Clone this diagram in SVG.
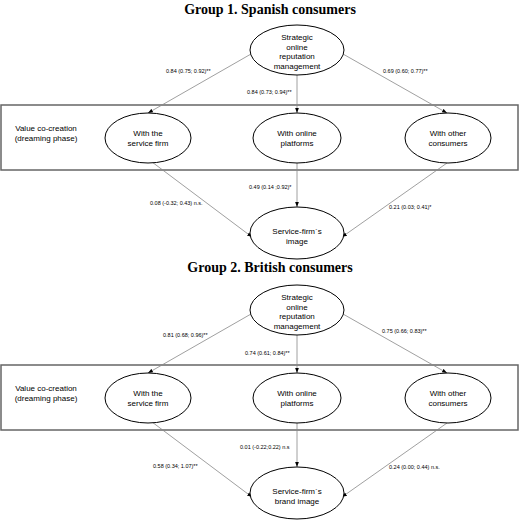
<svg xmlns="http://www.w3.org/2000/svg" width="520" height="520" viewBox="0 0 520 520">
<style>
.title{font-family:"Liberation Serif","Times New Roman",serif;font-weight:bold;font-size:14px;fill:#000;text-anchor:middle}
.nt{font-family:"Liberation Sans",Arial,sans-serif;font-size:8px;fill:#000;text-anchor:middle}
.lab{font-family:"Liberation Sans",Arial,sans-serif;font-size:5.5px;fill:#000}
.node{fill:#fff;stroke:#000;stroke-width:1}
.box{fill:none;stroke:#666;stroke-width:1.5}
.edge{stroke:#888;stroke-width:0.8;fill:none;marker-end:url(#ah)}
</style>
<defs>
<marker id="ah" markerUnits="userSpaceOnUse" markerWidth="5" markerHeight="5" viewBox="0 0 5 5" refX="5" refY="2.5" orient="auto">
<path d="M0,0.6 L5,2.5 L0,4.4 z" fill="#000"/>
</marker>
</defs>
<rect width="520" height="520" fill="#fff"/>

<text class="title" x="270" y="14">Group 1. Spanish consumers</text>
<rect id="box1" class="box" x="1" y="105" width="517" height="65"/>
<text class="nt" x="46" y="131">Value co-creation</text>
<text class="nt" x="46" y="141">(dreaming phase)</text>

<g id="connectors1">
<line class="edge" x1="251" y1="54" x2="148" y2="113"/>
<line class="edge" x1="297" y1="75" x2="297" y2="113"/>
<line class="edge" x1="343" y1="54" x2="447" y2="113"/>
<line class="edge" x1="152" y1="162" x2="252" y2="237"/>
<line class="edge" x1="297" y1="163" x2="297" y2="207"/>
<line class="edge" x1="447" y1="163" x2="342" y2="237"/>
<text class="lab" x="166" y="73">0.84 (0.75; 0.92)**</text>
<text class="lab" x="247" y="94">0.84 (0.73; 0.94)**</text>
<text class="lab" x="383" y="73">0.69 (0.60; 0.77)**</text>
<text class="lab" x="249" y="189">0.49 (0.14 ;0.92)*</text>
<text class="lab" x="150" y="205">0.08 (-0.32; 0.43) n.s.</text>
<text class="lab" x="389" y="209">0.21 (0.03; 0.41)*</text>
</g>

<g id="sorm1">
<ellipse class="node" cx="297" cy="50" rx="47" ry="25"/>
<text class="nt" x="297" y="40">Strategic</text>
<text class="nt" x="297" y="49.5">online</text>
<text class="nt" x="297" y="59">reputation</text>
<text class="nt" x="297" y="68.5">management</text>
</g>
<g id="firm1">
<ellipse class="node" cx="148" cy="138" rx="43" ry="25"/>
<text class="nt" x="148" y="136">With the</text>
<text class="nt" x="148" y="146">service firm</text>
</g>
<g id="platforms1">
<ellipse class="node" cx="297" cy="138" rx="44" ry="25"/>
<text class="nt" x="297" y="136">With online</text>
<text class="nt" x="297" y="146">platforms</text>
</g>
<g id="consumers1">
<ellipse class="node" cx="448" cy="138" rx="43" ry="25"/>
<text class="nt" x="448" y="136">With other</text>
<text class="nt" x="448" y="146">consumers</text>
</g>
<g id="image1">
<ellipse class="node" cx="297" cy="233" rx="47" ry="26"/>
<text class="nt" x="297" y="234">Service-firm`s</text>
<text class="nt" x="297" y="243.5">image</text>
</g>

<text class="title" x="270" y="272">Group 2. British consumers</text>
<rect id="box2" class="box" x="1" y="365" width="517" height="65"/>
<text class="nt" x="46" y="391">Value co-creation</text>
<text class="nt" x="46" y="401">(dreaming phase)</text>

<g id="connectors2">
<line class="edge" x1="251" y1="314" x2="148" y2="373"/>
<line class="edge" x1="297" y1="335" x2="297" y2="373"/>
<line class="edge" x1="343" y1="314" x2="447" y2="373"/>
<line class="edge" x1="152" y1="422" x2="252" y2="497"/>
<line class="edge" x1="297" y1="423" x2="297" y2="467"/>
<line class="edge" x1="447" y1="423" x2="342" y2="497"/>
<text class="lab" x="163" y="337">0.81 (0.68; 0.96)**</text>
<text class="lab" x="245" y="355">0.74 (0.61; 0.84)**</text>
<text class="lab" x="382" y="333">0.75 (0.66; 0.83)**</text>
<text class="lab" x="240" y="449">0.01 (-0.22;0.22) n.s</text>
<text class="lab" x="153" y="468">0.58 (0.34; 1.07)**</text>
<text class="lab" x="389" y="469">0.24 (0.00; 0.44) n.s.</text>
</g>

<g id="sorm2">
<ellipse class="node" cx="297" cy="310" rx="47" ry="25"/>
<text class="nt" x="297" y="300">Strategic</text>
<text class="nt" x="297" y="309.5">online</text>
<text class="nt" x="297" y="319">reputation</text>
<text class="nt" x="297" y="328.5">management</text>
</g>
<g id="firm2">
<ellipse class="node" cx="148" cy="398" rx="43" ry="25"/>
<text class="nt" x="148" y="396">With the</text>
<text class="nt" x="148" y="406">service firm</text>
</g>
<g id="platforms2">
<ellipse class="node" cx="297" cy="398" rx="44" ry="25"/>
<text class="nt" x="297" y="396">With online</text>
<text class="nt" x="297" y="406">platforms</text>
</g>
<g id="consumers2">
<ellipse class="node" cx="448" cy="398" rx="43" ry="25"/>
<text class="nt" x="448" y="396">With other</text>
<text class="nt" x="448" y="406">consumers</text>
</g>
<g id="image2">
<ellipse class="node" cx="297" cy="493" rx="47" ry="26"/>
<text class="nt" x="297" y="494">Service-firm`s</text>
<text class="nt" x="297" y="503.5">brand image</text>
</g>
</svg>
